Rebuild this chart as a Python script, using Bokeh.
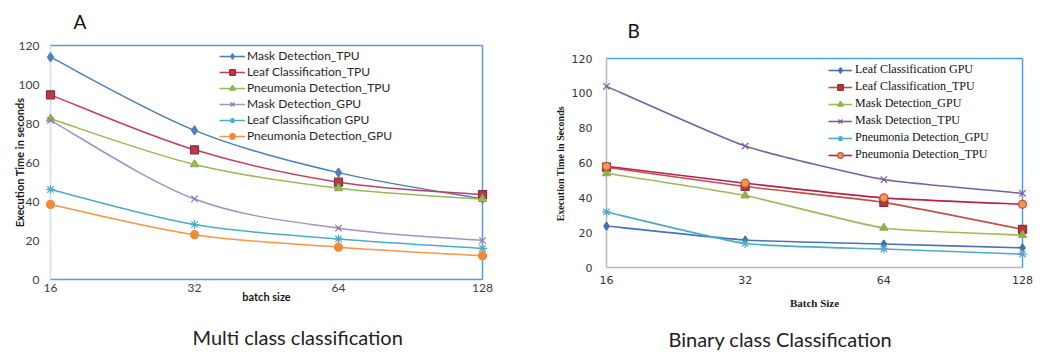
from bokeh.plotting import figure
from bokeh.models import Legend, LegendItem, Range1d, FixedTicker, Title
from bokeh.layouts import row
from bokeh.embed import file_html
from bokeh.resources import INLINE

# ---------------- data ----------------
batch_labels = ["16", "32", "64", "128"]
y_ticks = [0, 20, 40, 60, 80, 100, 120]

# Chart A : Multi class classification
a_names = ["Mask Detection_TPU", "Leaf Classification_TPU", "Pneumonia Detection_TPU",
           "Mask Detection_GPU", "Leaf Classification GPU", "Pneumonia Detection_GPU"]
a_mask_tpu = [114.0, 76.5, 54.8, 41.4]
a_leaf_tpu = [94.7, 66.5, 49.9, 43.5]
a_pneu_tpu = [82.4, 59.0, 46.8, 41.2]
a_mask_gpu = [81.6, 41.3, 26.3, 20.0]
a_leaf_gpu = [46.2, 28.2, 20.8, 16.0]
a_pneu_gpu = [38.5, 23.0, 16.6, 12.2]

# Chart B : Binary class Classification
b_names = ["Leaf Classification GPU", "Leaf Classification_TPU", "Mask Detection_GPU",
           "Mask Detection_TPU", "Pneumonia Detection_GPU", "Pneumonia Detection_TPU"]
b_leaf_gpu = [23.8, 15.8, 13.5, 11.3]
b_leaf_tpu = [57.6, 46.5, 37.4, 21.9]
b_mask_gpu = [54.1, 41.3, 22.7, 18.6]
b_mask_tpu = [104.0, 69.7, 50.5, 42.6]
b_pneu_gpu = [31.9, 13.8, 10.6, 7.7]
b_pneu_tpu = [58.1, 48.4, 40.0, 36.3]

xs = list(range(len(batch_labels)))


def smooth(p, xv, yv, t, color, width):
    n = len(xv)
    x0, y0, x1, y1, cx0, cy0, cx1, cy1 = [], [], [], [], [], [], [], []
    for i in range(n - 1):
        a = max(i - 1, 0)
        d = min(i + 2, n - 1)
        x0.append(xv[i]); y0.append(yv[i])
        x1.append(xv[i + 1]); y1.append(yv[i + 1])
        cx0.append(xv[i] + (xv[i + 1] - xv[a]) / 6 * t)
        cy0.append(yv[i] + (yv[i + 1] - yv[a]) / 6 * t)
        cx1.append(xv[i + 1] - (xv[d] - xv[i]) / 6 * t)
        cy1.append(yv[i + 1] - (yv[d] - yv[i]) / 6 * t)
    return p.bezier(x0=x0, y0=y0, x1=x1, y1=y1, cx0=cx0, cy0=cy0, cx1=cx1, cy1=cy1,
                    line_color=color, line_width=width)


def make_fig(w, h, bl, br, bt, bb, padx, data_w, pad_top, pad_bot, data_h):
    ux = (len(xs) - 1) / data_w * padx
    uy = y_ticks[-1] / data_h
    p = figure(width=w, height=h,
               min_border_left=bl, min_border_right=br, min_border_top=bt, min_border_bottom=bb,
               x_range=Range1d(xs[0] - ux, xs[-1] + ux),
               y_range=Range1d(y_ticks[0] - uy * pad_bot, y_ticks[-1] + uy * pad_top),
               output_backend="svg", toolbar_location=None)
    p.xgrid.visible = False
    p.ygrid.visible = False
    p.outline_line_color = None
    p.background_fill_color = "white"
    p.border_fill_color = "white"
    for ax in (p.xaxis[0], p.yaxis[0]):
        ax.axis_line_color = None
        ax.major_tick_line_color = None
        ax.minor_tick_line_color = None
        ax.major_tick_out = 0
        ax.major_tick_in = 0
    p.xaxis.ticker = FixedTicker(ticks=xs)
    p.xaxis.major_label_overrides = {i: lab for i, lab in zip(xs, batch_labels)}
    p.yaxis.ticker = FixedTicker(ticks=y_ticks)
    return p


def frame_box(p, c_left, c_bottom, c_top, c_right, w):
    xa, xb = xs[0], xs[-1]
    ya, yb = y_ticks[0], y_ticks[-1]
    p.segment(x0=[xa], y0=[ya], x1=[xa], y1=[yb], line_color=c_left, line_width=w)
    p.segment(x0=[xa], y0=[ya], x1=[xb], y1=[ya], line_color=c_bottom, line_width=w)
    p.segment(x0=[xa], y0=[yb], x1=[xb], y1=[yb], line_color=c_top, line_width=w)
    p.segment(x0=[xb], y0=[ya], x1=[xb], y1=[yb], line_color=c_right, line_width=w)


def set_titles(p, letter, lx, l_valign, l_standoff, caption, cx, gap):
    p.title.text = letter
    p.title.align = "left"
    p.title.offset = lx
    p.title.vertical_align = l_valign
    p.title.standoff = l_standoff
    p.title.text_font = "Lato"
    p.title.text_font_size = "19px"
    p.title.text_font_style = "normal"
    p.title.text_color = "#111111"
    # blank spacer panel between the x axis and the caption
    spacer = Title(text=" ", text_font_size="1px", standoff=gap)
    p.add_layout(spacer, "below")
    cap = Title(text=caption, align="left", offset=cx, text_font="Lato",
                text_font_size="20px", text_font_style="normal", text_color="#222222",
                vertical_align="bottom", standoff=0)
    p.add_layout(cap, "below")


# ---------------- chart A ----------------
pa = make_fig(528, 352, 42, 38, 41, 69, 8, 432, 4, 4, 234)
frame_box(pa, "#D3DFF0", "#5B9BD5", "#5B9BD5", "#5B9BD5", 1.5)
pa.yaxis.major_label_text_font = "Lato"
pa.yaxis.major_label_text_font_size = "12px"
pa.yaxis.major_label_text_color = "#404040"
pa.yaxis.major_label_standoff = 3
pa.yaxis.axis_label = "Execution Time in seconds"
pa.yaxis.axis_label_text_font = "Lato"
pa.yaxis.axis_label_text_font_style = "bold"
pa.yaxis.axis_label_text_font_size = "11px"
pa.yaxis.axis_label_text_color = "#1a1a1a"
pa.yaxis.axis_label_standoff = -10
pa.xaxis.major_label_text_font = "Lato"
pa.xaxis.major_label_text_font_size = "12px"
pa.xaxis.major_label_text_color = "#404040"
pa.xaxis.major_label_standoff = 0
pa.xaxis.axis_label = "batch size"
pa.xaxis.axis_label_text_font = "Lato"
pa.xaxis.axis_label_text_font_style = "bold"
pa.xaxis.axis_label_text_font_size = "11px"
pa.xaxis.axis_label_text_color = "#1a1a1a"
pa.xaxis.axis_label_standoff = -5

a_values = [a_mask_tpu, a_leaf_tpu, a_pneu_tpu, a_mask_gpu, a_leaf_gpu, a_pneu_gpu]
a_style = [
    ("#4A7EBB", "diamond", "#4F81BD", "#4F81BD", 9),
    ("#C43F5B", "square", "#B83B4C", "#8E2A35", 8),
    ("#98B954", "triangle", "#9BBB59", "#8AAA48", 8),
    ("#A392C4", "x", "#8E78B4", "#8E78B4", 9),
    ("#4BACC6", "asterisk", "#4BACC6", "#4BACC6", 9),
    ("#F79646", "circle", "#F08A3A", "#F08A3A", 8),
]
a_items = []
for name, vals, (lc, mk, fc, mc, sz) in zip(a_names, a_values, a_style):
    r1 = smooth(pa, xs, vals, 1.0, lc, 1.5)
    r2 = pa.scatter(xs, vals, marker=mk, size=sz, fill_color=fc, line_color=mc, line_width=1.2)
    a_items.append(LegendItem(label=name, renderers=[r1, r2]))

leg_a = Legend(items=a_items, location=(177, 140), padding=0, margin=0,
               border_line_color=None, background_fill_alpha=0,
               glyph_width=26, glyph_height=14, label_height=14, spacing=1, label_standoff=2,
               label_text_font="Lato", label_text_font_size="12px", label_text_color="#262626")
pa.add_layout(leg_a, "center")
set_titles(pa, "A", 31, "top", 14, "Multi class classification", 150, 14)

# ---------------- chart B ----------------
pb = make_fig(516, 352, 70, 14, 41, 69, 8, 416, 17, 16, 209)
frame_box(pb, "#B8B8B8", "#B8B8B8", "#4A9FE0", "#4A9FE0", 1.5)
pb.yaxis.major_label_text_font = "DejaVu Sans"
pb.yaxis.major_label_text_font_size = "11px"
pb.yaxis.major_label_text_color = "#333333"
pb.yaxis.major_label_standoff = 6
pb.yaxis.axis_label = "Execution Time  in Seconds"
pb.yaxis.axis_label_text_font = "Liberation Serif"
pb.yaxis.axis_label_text_font_style = "bold"
pb.yaxis.axis_label_text_font_size = "10px"
pb.yaxis.axis_label_text_color = "#1a1a1a"
pb.yaxis.axis_label_standoff = 3
pb.xaxis.major_label_text_font = "DejaVu Sans"
pb.xaxis.major_label_text_font_size = "11px"
pb.xaxis.major_label_text_color = "#333333"
pb.xaxis.major_label_standoff = -8
pb.xaxis.axis_label = "Batch Size"
pb.xaxis.axis_label_text_font = "Liberation Serif"
pb.xaxis.axis_label_text_font_style = "bold"
pb.xaxis.axis_label_text_font_size = "11px"
pb.xaxis.axis_label_text_color = "#1a1a1a"
pb.xaxis.axis_label_standoff = 10

b_values = [b_leaf_gpu, b_leaf_tpu, b_mask_gpu, b_mask_tpu, b_pneu_gpu, b_pneu_tpu]
b_style = [
    ("#4A72B8", "diamond", "#3F6FB5", "#3F6FB5", 8),
    ("#C0504D", "square", "#B03A3A", "#9A2E2E", 8),
    ("#9BBB59", "triangle", "#8FB04C", "#8FB04C", 8),
    ("#7A5FA0", "x", "#7A5FA0", "#7A5FA0", 9),
    ("#4BACC6", "asterisk", "#4BACC6", "#4BACC6", 9),
    ("#B8204A", "circle", "#F79646", "#C0504D", 8),
]
b_items = []
for name, vals, (lc, mk, fc, mc, sz) in zip(b_names, b_values, b_style):
    r1 = smooth(pb, xs, vals, 0.5, lc, 1.6)
    r2 = pb.scatter(xs, vals, marker=mk, size=sz, fill_color=fc, line_color=mc, line_width=1.2)
    b_items.append(LegendItem(label=name, renderers=[r1, r2]))

leg_b = Legend(items=b_items, location=(230, 121), padding=0, margin=0,
               border_line_color=None, background_fill_alpha=0,
               glyph_width=24, glyph_height=14, label_height=14, spacing=2, label_standoff=3,
               label_text_font="Liberation Serif", label_text_font_size="12px",
               label_text_color="#111111")
pb.add_layout(leg_b, "center")
set_titles(pb, "B", 29, "bottom", 0, "Binary class Classification", 70, 10)

layout = row(pa, pb, spacing=0)
open("out.html", "w").write(file_html(layout, INLINE))
